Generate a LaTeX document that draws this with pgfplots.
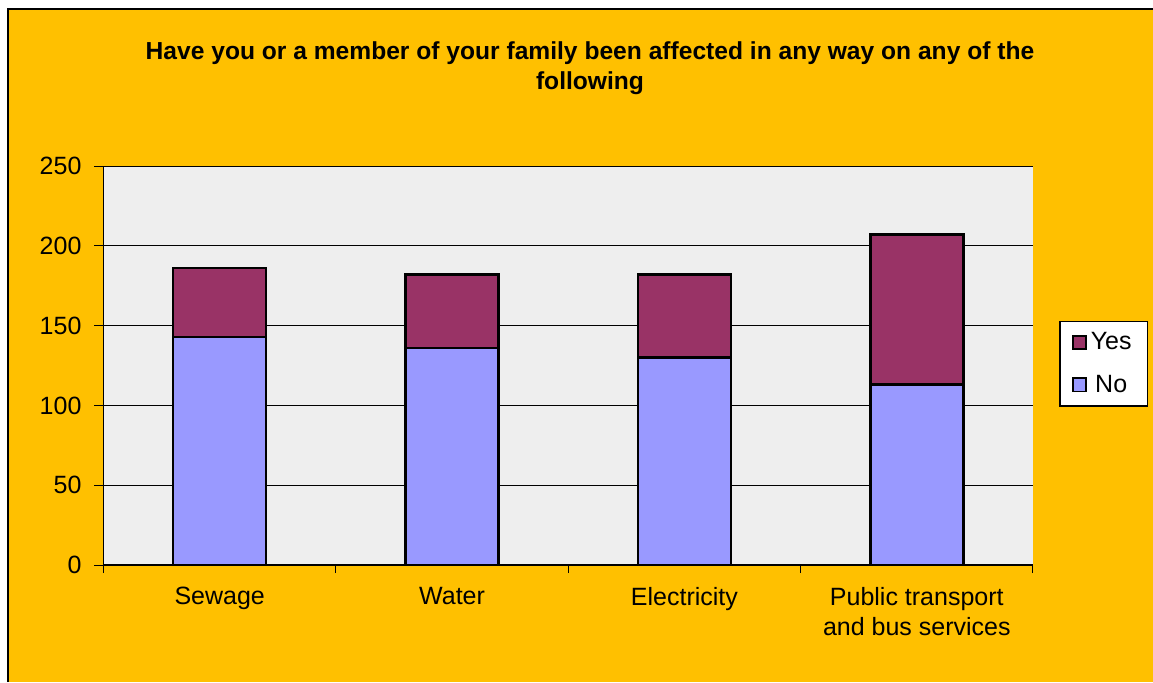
\documentclass[border=0pt]{standalone}
\usepackage{pgfplots}
\pgfplotsset{compat=1.18}
\usepackage{fontspec}
\setmainfont{Liberation Sans}
\definecolor{bgorange}{HTML}{FFC000}
\definecolor{plotbg}{HTML}{EEEEEE}
\definecolor{nocol}{HTML}{9999FF}
\definecolor{yescol}{HTML}{993366}
\begin{document}
\begin{tikzpicture}
\path[use as bounding box] (0,0) rectangle (576.5pt,341pt);
\fill[white] (0,0) rectangle (576.5pt,341pt);
\fill[bgorange] (4pt,0) rectangle (576.5pt,336.5pt);
\draw[black,line width=0.6pt] (4pt,0) -- (4pt,336.5pt) -- (576.5pt,336.5pt);
\node[font=\bfseries\fontsize{12.3}{15}\selectfont, align=center] at (295pt,307pt)
  {Have you or a member of your family been affected in any way on any of the\\ following};
\begin{axis}[
  at={(51.75pt,58.5pt)}, anchor=south west,
  scale only axis, width=464.75pt, height=199.5pt,
  ybar stacked, bar width=46.5pt,
  xmin=-0.5, xmax=3.5, ymin=0, ymax=250,
  xtick={0,1,2,3},
  xticklabels={Sewage,Water,Electricity,{Public transport\\and bus services}},
  minor xtick={-0.5,0.5,1.5,2.5,3.5},
  ytick={0,50,100,150,200,250},
  tick align=outside,
  major tick length=4.5pt, minor tick length=4pt,
  major x tick style={draw=none},
  minor x tick style={black, line width=0.5pt},
  major y tick style={black, line width=0.5pt},
  axis x line*=bottom, axis y line*=left,
  x axis line style={line width=1pt},
  y axis line style={line width=0.5pt},
  ymajorgrids, grid style={black, line width=0.5pt},
  axis background/.style={fill=plotbg},
  /pgf/number format/assume math mode=true,
  tick label style={font=\fontsize{12.5}{15}\selectfont},
  xticklabel style={align=center, yshift=-3pt},
  yticklabel style={xshift=-3pt},
  legend style={at={(rel axis cs:1.028,0.612)}, anchor=north west,
    draw=black, line width=0.8pt, fill=white,
    font=\fontsize{12.5}{15}\selectfont,
    row sep=7pt, inner xsep=6pt, inner ysep=3.5pt},
  legend image code/.code={\draw[#1, line width=0.9pt] (0pt,-3.3pt) rectangle (6.6pt,3.3pt);},
  reverse legend,
]
\addplot[fill=nocol, draw=black, line width=1.2pt] coordinates {(0,143) (1,136) (2,130) (3,113)};
\addplot[fill=yescol, draw=black, line width=1.2pt] coordinates {(0,43) (1,46) (2,52) (3,94)};
\legend{No,Yes}
\end{axis}
\end{tikzpicture}
\end{document}
